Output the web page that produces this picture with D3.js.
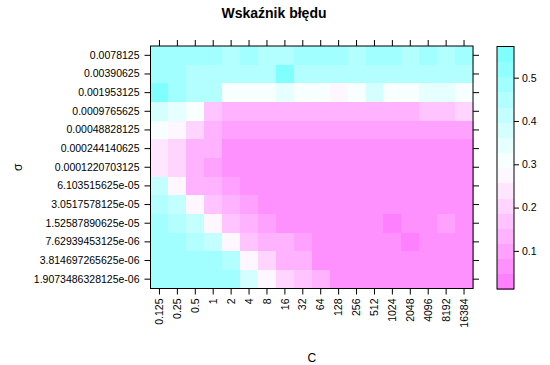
<!DOCTYPE html>
<html>
<head>
<meta charset="utf-8">
<script src="https://cdn.jsdelivr.net/npm/d3@7"></script>
<style>
  body { margin: 0; background: #fff; }
  svg { display: block; font-family: "Liberation Sans", Arial, sans-serif; }
</style>
</head>
<body>
<svg id="chart" width="550" height="365"></svg>
<script>
// Categories
const cLabels = ["0.125","0.25","0.5","1","2","4","8","16","32","64","128","256","512","1024","2048","4096","8192","16384"];
const sigmaLabels = ["0.0078125","0.00390625","0.001953125","0.0009765625","0.00048828125","0.000244140625","0.0001220703125","6.103515625e-05","3.0517578125e-05","1.52587890625e-05","7.62939453125e-06","3.814697265625e-06","1.9073486328125e-06"];

// Error rate per sigma row (columns follow cLabels)
const err_0078125   = [0.47,0.47,0.47,0.47,0.46,0.49,0.45,0.46,0.47,0.48,0.49,0.45,0.48,0.48,0.45,0.49,0.46,0.49];
const err_00390625  = [0.47,0.47,0.46,0.45,0.44,0.44,0.44,0.55,0.45,0.44,0.45,0.44,0.45,0.45,0.45,0.44,0.45,0.44];
const err_001953125 = [0.572,0.50,0.46,0.45,0.31,0.31,0.31,0.35,0.32,0.30,0.26,0.31,0.38,0.31,0.31,0.33,0.35,0.31];
const err_0009765625 = [0.38,0.34,0.31,0.18,0.14,0.14,0.14,0.14,0.15,0.14,0.14,0.14,0.14,0.14,0.14,0.17,0.17,0.20];
const err_00048828125 = [0.30,0.27,0.20,0.13,0.10,0.10,0.10,0.10,0.10,0.10,0.10,0.10,0.10,0.10,0.10,0.10,0.10,0.10];
const err_000244140625 = [0.24,0.22,0.15,0.12,0.07,0.07,0.07,0.07,0.07,0.07,0.07,0.07,0.07,0.07,0.07,0.07,0.07,0.07];
const err_0001220703125 = [0.25,0.20,0.13,0.11,0.065,0.065,0.065,0.065,0.065,0.065,0.065,0.065,0.065,0.065,0.065,0.065,0.065,0.065];
const err_6_10e05 = [0.42,0.27,0.15,0.14,0.11,0.065,0.065,0.065,0.065,0.065,0.065,0.065,0.065,0.065,0.065,0.065,0.065,0.065];
const err_3_05e05 = [0.44,0.42,0.27,0.16,0.14,0.10,0.065,0.065,0.065,0.065,0.065,0.065,0.065,0.065,0.065,0.065,0.065,0.065];
const err_1_53e05 = [0.48,0.45,0.42,0.27,0.16,0.14,0.10,0.065,0.065,0.065,0.065,0.065,0.065,0.012,0.065,0.065,0.10,0.065];
const err_7_63e06 = [0.48,0.47,0.45,0.42,0.27,0.17,0.14,0.12,0.09,0.065,0.065,0.065,0.065,0.065,0.025,0.065,0.065,0.065];
const err_3_81e06 = [0.49,0.49,0.48,0.47,0.44,0.28,0.19,0.15,0.12,0.07,0.065,0.065,0.065,0.065,0.065,0.065,0.065,0.065];
const err_1_91e06 = [0.50,0.50,0.50,0.50,0.49,0.37,0.27,0.19,0.17,0.15,0.08,0.065,0.065,0.065,0.065,0.065,0.065,0.065];

const errorRows = [err_0078125, err_00390625, err_001953125, err_0009765625, err_00048828125,
  err_000244140625, err_0001220703125, err_6_10e05, err_3_05e05, err_1_53e05, err_7_63e06, err_3_81e06, err_1_91e06];

const legendTicks = [0.1, 0.2, 0.3, 0.4, 0.5];
const titleText = "Wskaźnik błędu";
const xTitle = "C";
const yTitle = "σ";

(function () {
// Build cells
const cells = [];
errorRows.forEach((row, i) => row.forEach((v, j) => cells.push({ s: sigmaLabels[i], c: cLabels[j], v })));

const svg = d3.select("#chart");
const pLeft = 150.5, pRight = 473, pTop = 46, pBottom = 288.5;

const x = d3.scaleBand().domain(cLabels).range([pLeft, pRight]);
const y = d3.scaleBand().domain(sigmaLabels).range([pTop, pBottom]);

const ext = d3.extent(cells, d => d.v);
const nBands = 16;
const magenta = "#FF80FF", white = "#FFFFFF", cyan = "#80FFFF";
const bandColors = d3.range(nBands).map(k => {
  const t = k / (nBands - 1);
  return t < 0.5 ? d3.interpolateRgb(magenta, white)(t / 0.5) : d3.interpolateRgb(white, cyan)((t - 0.5) / 0.5);
});
const color = d3.scaleQuantize().domain(ext).range(bandColors);

svg.append("g").selectAll("rect").data(cells).join("rect")
  .attr("x", d => x(d.c)).attr("y", d => y(d.s))
  .attr("width", x.bandwidth() + 0.5).attr("height", y.bandwidth() + 0.5)
  .attr("fill", d => color(d.v))
  .attr("shape-rendering", "crispEdges");

// Frame
svg.append("rect").attr("x", pLeft).attr("y", pTop).attr("width", pRight - pLeft).attr("height", pBottom - pTop)
  .attr("fill", "none").attr("stroke", "#000").attr("stroke-width", 1);

function styleAxis(g) {
  g.select(".domain").remove();
  g.selectAll(".tick line").attr("stroke", "#000");
  g.selectAll("text").attr("fill", "#000").attr("font-size", "10.5px").attr("font-family", "'Liberation Sans', Arial, sans-serif");
}

svg.append("g").attr("transform", `translate(${pLeft},0)`)
  .call(d3.axisLeft(y).tickSize(6).tickPadding(5)).call(styleAxis);
svg.append("g").attr("transform", `translate(${pRight},0)`)
  .call(d3.axisRight(y).tickSize(6).tickFormat("")).call(styleAxis);
svg.append("g").attr("transform", `translate(0,${pTop})`)
  .call(d3.axisTop(x).tickSize(6).tickFormat("")).call(styleAxis);
const xb = svg.append("g").attr("transform", `translate(0,${pBottom})`)
  .call(d3.axisBottom(x).tickSize(6)).call(styleAxis);
xb.selectAll(".tick text")
  .attr("transform", "rotate(-90)")
  .attr("text-anchor", "end")
  .attr("x", -10).attr("y", 0).attr("dy", "0.35em");

// Legend
const lx0 = 497, lx1 = 514;
const ly = d3.scaleLinear().domain(ext).range([289, 46.5]);
const step = (ext[1] - ext[0]) / nBands;
svg.append("g").selectAll("rect").data(bandColors).join("rect")
  .attr("x", lx0).attr("width", lx1 - lx0)
  .attr("y", (c, k) => ly(ext[0] + step * (k + 1)))
  .attr("height", (c, k) => ly(ext[0] + step * k) - ly(ext[0] + step * (k + 1)) + 0.5)
  .attr("fill", c => c).attr("shape-rendering", "crispEdges");
svg.append("rect").attr("x", lx0).attr("y", 46.5).attr("width", lx1 - lx0).attr("height", 289 - 46.5)
  .attr("fill", "none").attr("stroke", "#000");
svg.append("g").attr("transform", `translate(${lx1},0)`)
  .call(d3.axisRight(ly).tickValues(legendTicks).tickFormat(d3.format(".1f")).tickSize(5).tickPadding(3))
  .call(styleAxis);

// Titles
svg.append("text").attr("x", 274).attr("y", 18).attr("text-anchor", "middle")
  .attr("font-size", "14px").attr("font-weight", "bold").text(titleText);
svg.append("text").attr("x", (pLeft + pRight) / 2).attr("y", 362).attr("text-anchor", "middle")
  .attr("font-size", "12px").text(xTitle);
svg.append("text").attr("transform", `translate(22,${(pTop + pBottom) / 2}) rotate(-90)`)
  .attr("text-anchor", "middle").attr("font-size", "12px").text(yTitle);
})();
</script>
</body>
</html>
